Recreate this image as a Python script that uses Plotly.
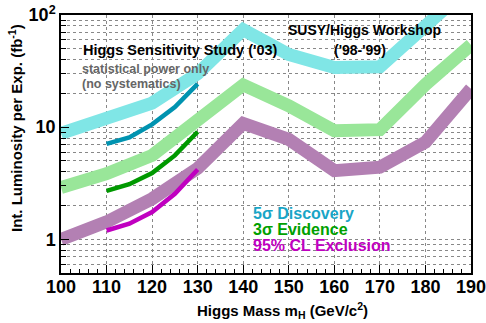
import plotly.graph_objects as go

mass = [100, 110, 120, 130, 140, 150, 160, 170, 180, 190]
disc_band = [8.8, 12.1, 16.4, 30.0, 74, 44.5, 34, 34.5, 80, 185]
evid_band = [2.9, 3.85, 5.6, 11.1, 23.8, 15.5, 9.3, 9.5, 24, 54]
excl_band = [1.0, 1.43, 2.3, 4.3, 10.8, 7.8, 4.1, 4.4, 7.35, 22]

mass03 = [110, 115, 120, 125, 130]
disc03 = [7.1, 8.1, 10.6, 15.1, 24.3]
evid03 = [2.7, 3.1, 3.9, 5.6, 9.1]
excl03 = [1.2, 1.38, 1.75, 2.55, 4.2]

y_major = [1, 10, 100]
y_major_text = ["1", "10", "10<sup>2</sup>"]
y_minor = [0.6, 0.7, 0.8, 0.9, 2, 3, 4, 5, 6, 7, 8, 9, 20, 30, 40, 50, 60, 70, 80, 90]

FONT = "Liberation Sans, Arial, Helvetica, sans-serif"

fig = go.Figure()
for y, c in [(disc_band, "#80e6e6"), (evid_band, "#99e699"), (excl_band, "#b380b3")]:
    fig.add_trace(go.Scatter(x=mass, y=y, mode="lines",
                             line=dict(color=c, width=13), hoverinfo="skip"))
for y, c in [(disc03, "#0093b0"), (evid03, "#009900"), (excl03, "#c000c0")]:
    fig.add_trace(go.Scatter(x=mass03, y=y, mode="lines",
                             line=dict(color=c, width=4.5), hoverinfo="skip"))

grid = dict(gridcolor="#888888", griddash="dot", gridwidth=1)
fig.update_xaxes(range=[100, 190], dtick=10, tick0=100, ticks="inside", ticklen=8,
                 tickwidth=1, tickcolor="black", showline=True, linecolor="black",
                 linewidth=1.5, mirror=True, showgrid=True, zeroline=False,
                 automargin=False, ticklabeloverflow="allow", ticklabelstandoff=-3,
                 minor=dict(dtick=2, ticks="inside", ticklen=4, tickcolor="black", showgrid=False),
                 tickfont=dict(family=FONT, size=18, color="black", weight="bold"), **grid)
fig.update_yaxes(type="log", range=[-0.3, 2.0], tickmode="array", tickvals=y_major,
                 ticktext=y_major_text, ticks="inside", ticklen=8, tickcolor="black",
                 showline=True, linecolor="black", linewidth=1.5, mirror=True,
                 showgrid=True, zeroline=False, automargin=False, ticklabeloverflow="allow",
                 minor=dict(tickmode="array", tickvals=y_minor, ticks="inside", ticklen=5,
                            tickcolor="black", showgrid=True, gridcolor="#888888",
                            griddash="dot", gridwidth=1),
                 tickfont=dict(family=FONT, size=18, color="black", weight="bold"), **grid)

def ann(text, x, y, size, color="black", xanchor="left", xref="paper", yref="paper", **kw):
    fig.add_annotation(text=text, x=x, y=y, xref=xref, yref=yref, showarrow=False,
                       xanchor=xanchor, yanchor="middle",
                       font=dict(family=FONT, size=size, color=color), **kw)

W, H = 486, 323
L, R, T, B = 61, 15, 15, 50
pw, ph = W - L - R, H - T - B
px = lambda x: (x - L) / pw
py = lambda y: (H - B - y) / ph

ann("<b>Higgs Sensitivity Study ('03)</b>", px(81), py(50), 14.5)
ann("<b>statistical power only</b>", px(80), py(69), 12.5, color="#666666")
ann("<b>(no systematics)</b>", px(80), py(84), 12.5, color="#666666")
ann("<b>SUSY/Higgs Workshop</b>", px(364), py(30), 14, xanchor="center")
ann("<b>('98-'99)</b>", px(360), py(50), 14, xanchor="center")
ann("<b>5σ Discovery</b>", px(251), py(213), 16, color="#19a5c6")
ann("<b>3σ Evidence</b>", px(251), py(229), 16, color="#00a000")
ann("<b>95% CL Exclusion</b>", px(251), py(245), 16, color="#c000c0")
ann("<b>Higgs Mass m<sub>H</sub> (GeV/c<sup>2</sup>)</b>", px(370), py(310), 15, xanchor="right")
fig.add_annotation(text="<b>Int. Luminosity per Exp. (fb<sup>-1</sup>)</b>", x=px(15), y=py(128),
                   xref="paper", yref="paper", showarrow=False, textangle=-90,
                   xanchor="center", yanchor="middle",
                   font=dict(family=FONT, size=15, color="black"))

fig.update_layout(width=W, height=H, margin=dict(l=L, r=R, t=T, b=B, autoexpand=False),
                  plot_bgcolor="white", paper_bgcolor="white", showlegend=False)
fig.write_html("out.html", config={"displayModeBar": False},
               post_script="document.body.style.margin='0px';")
